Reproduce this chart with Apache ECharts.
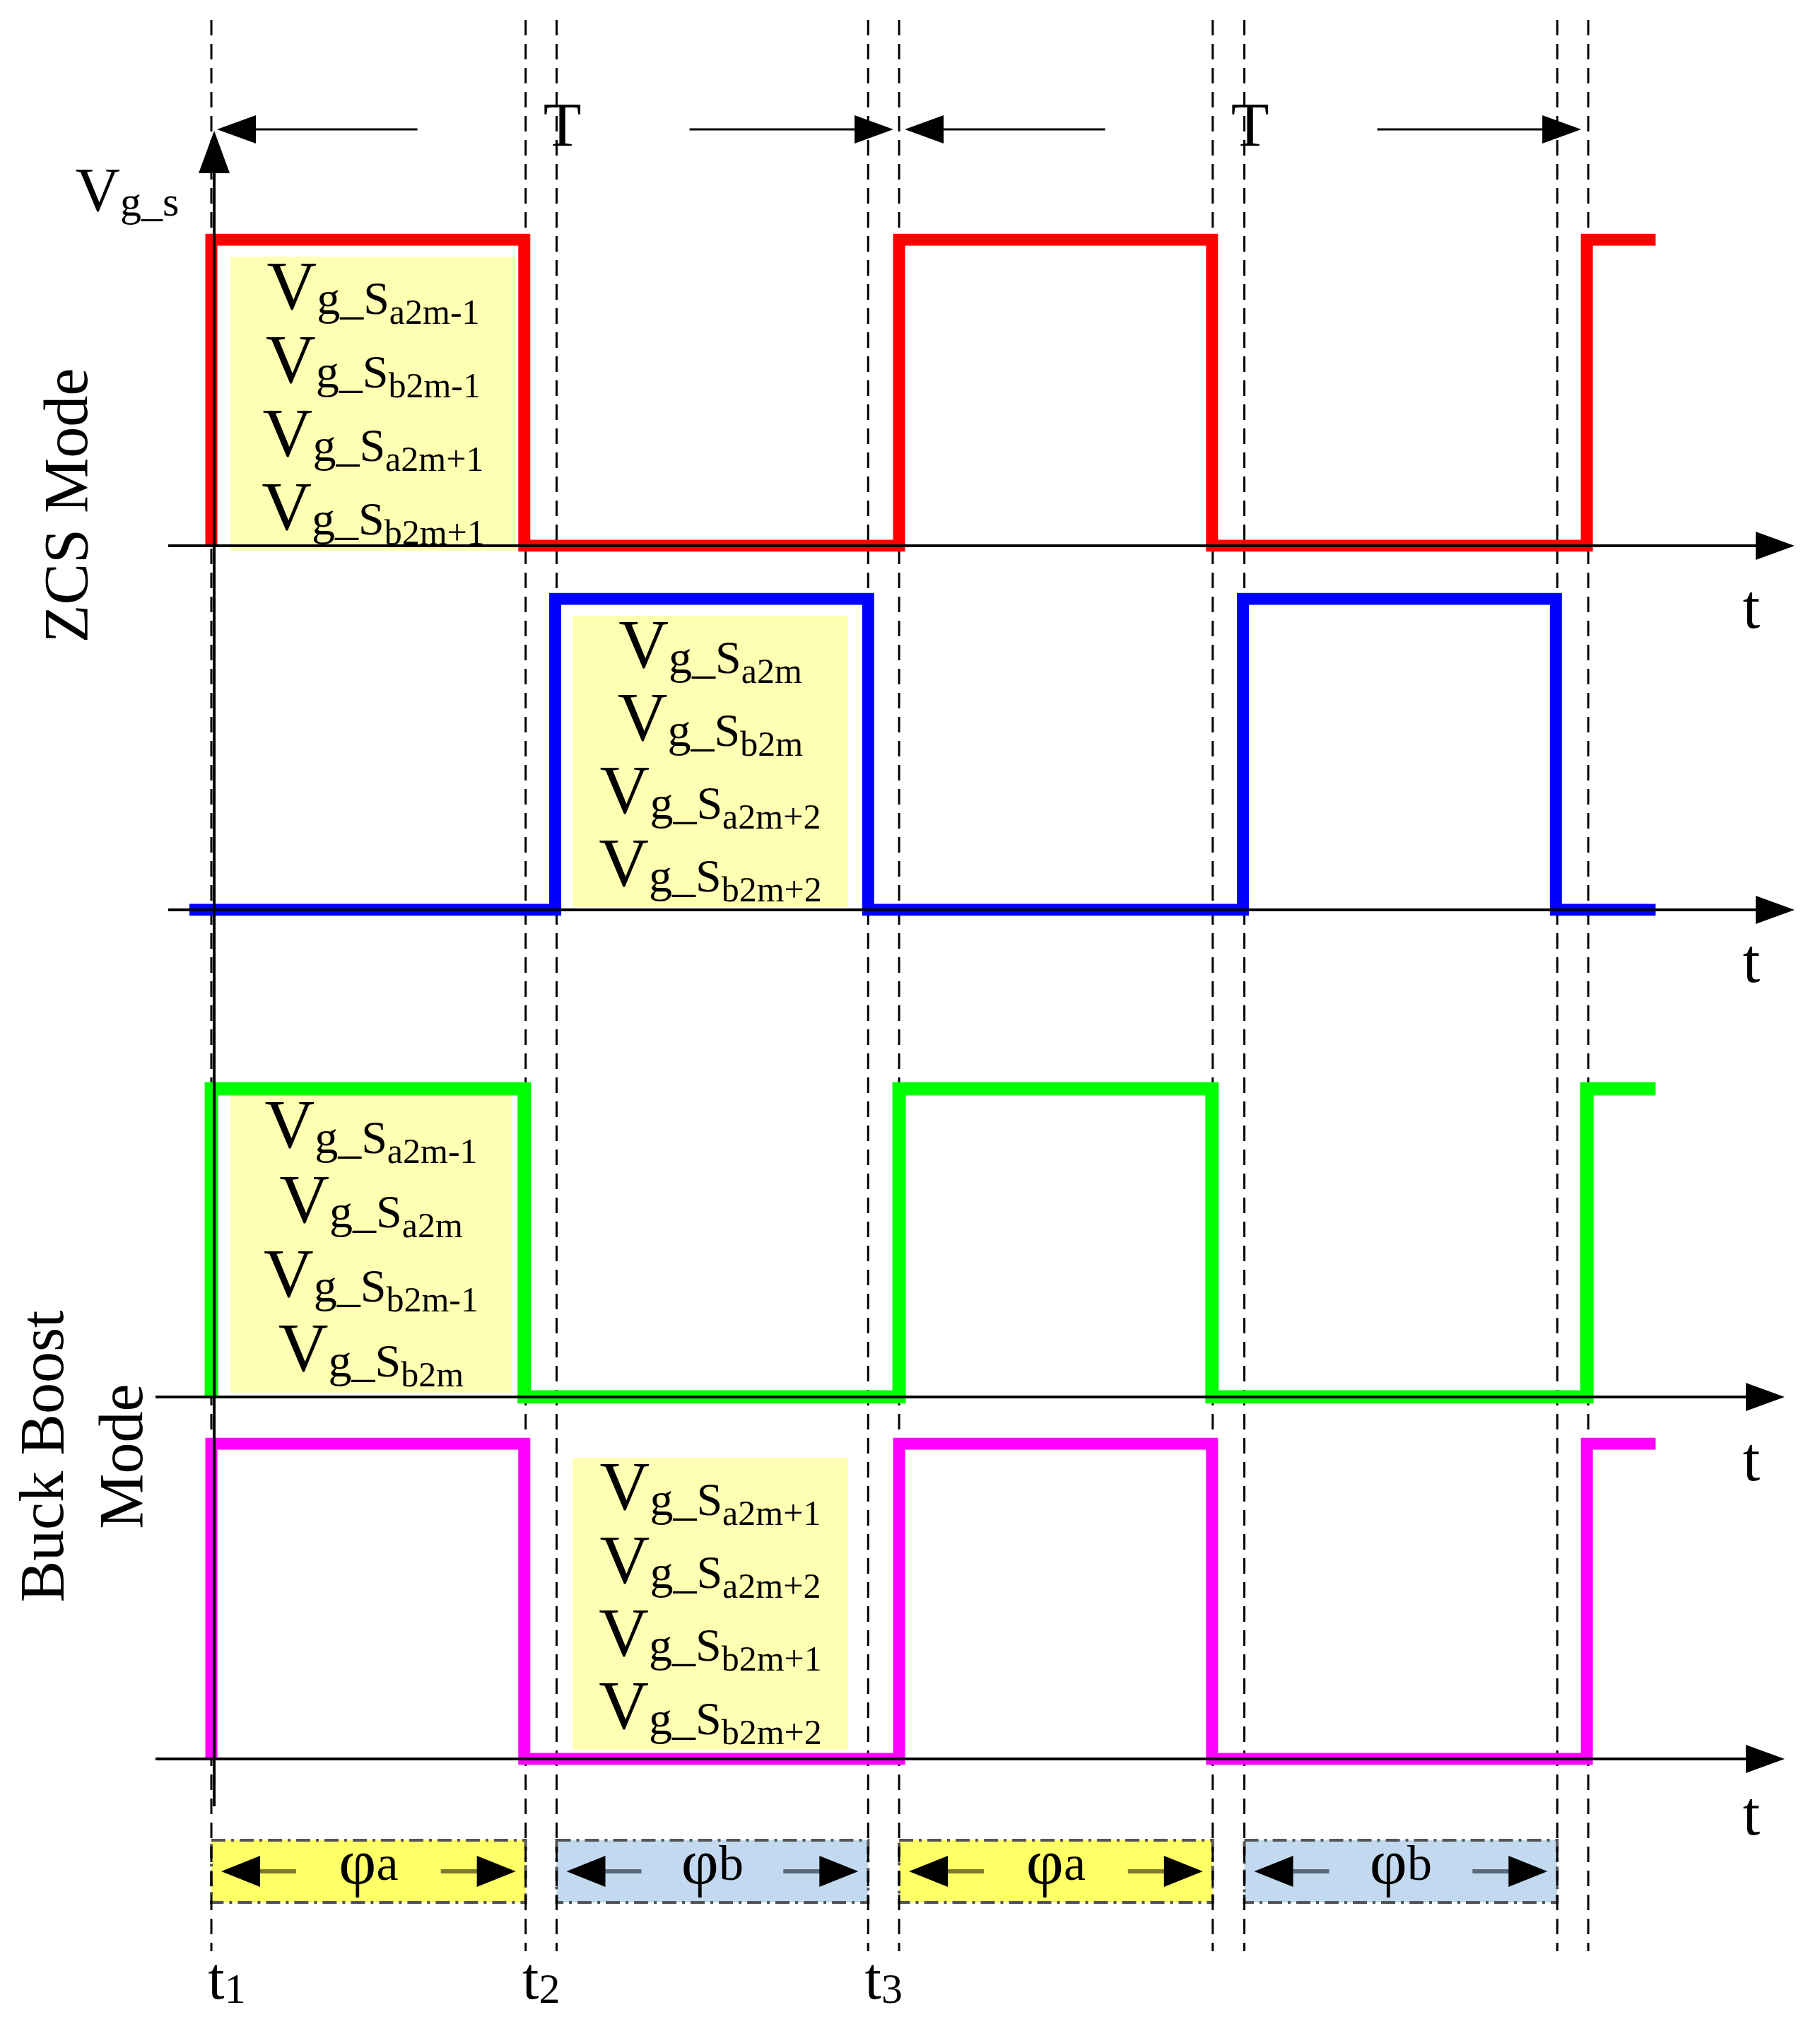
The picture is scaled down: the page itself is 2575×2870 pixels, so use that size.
<!DOCTYPE html>
<html><head><meta charset="utf-8">
<script src="https://cdn.jsdelivr.net/npm/echarts@6/dist/echarts.min.js"></script>
<style>html,body{margin:0;padding:0;background:#fff}#c{width:2575px;height:2870px}</style>
</head><body><div id="c"></div>
<script>
// time in % of period T (t1 = 0)
const redWave = [[0,0],[0,1],[45.5,1],[45.5,0],[100,0],[100,1],[145.5,1],[145.5,0],[200,0],[200,1],[210,1]];
const blueWave = [[-3.2,0],[50,0],[50,1],[95.5,1],[95.5,0],[150,0],[150,1],[195.5,1],[195.5,0],[210,0]];
const greenWave = [[0,0],[0,1],[45.5,1],[45.5,0],[100,0],[100,1],[145.5,1],[145.5,0],[200,0],[200,1],[210,1]];
const magentaWave = [[0,0],[0,1],[45.5,1],[45.5,0],[100,0],[100,1],[145.5,1],[145.5,0],[200,0],[200,1],[210,1]];
const dashTimes = [0,45.7,50.2,95.5,100,145.6,150.2,195.7,200.2];
const phiSpans = [[0,45.7,'a'],[50.2,95.5,'b'],[100,145.6,'a'],[150.2,195.7,'b']];
const tMarks = [[0,'1'],[45.7,'2'],[95.5,'3']];
const box1 = [['a2m-1'],['b2m-1'],['a2m+1'],['b2m+1']];
const box2 = [['a2m'],['b2m'],['a2m+2'],['b2m+2']];
const box3 = [['a2m-1'],['a2m'],['b2m-1'],['b2m']];
const box4 = [['a2m+1'],['a2m+2'],['b2m+1'],['b2m+2']];

const FONT = 'Liberation Serif';
const chart = echarts.init(document.getElementById('c'));
const grids = [[339,433],[847,440],[1540,436],[2042,446]];
const colors = ['#ff0000','#0000ff','#00ff00','#ff00ff'];
const waves = [redWave,blueWave,greenWave,magentaWave];
chart.setOption({
  backgroundColor:'#fff', animation:false,
  grid: grids.map(g=>({left:0,width:2575,top:g[0],height:g[1]})),
  xAxis: grids.map((g,i)=>({type:'value',gridIndex:i,min:-30.73,max:233.9,show:false})),
  yAxis: grids.map((g,i)=>({type:'value',gridIndex:i,min:0,max:1,show:false})),
  series: waves.map((w,i)=>({type:'line',xAxisIndex:i,yAxisIndex:i,data:w,showSymbol:false,
    lineStyle:{color:colors[i],width:(i===2?17:15)+2,join:'miter',cap:'butt'},z:5}))
});
const px = t => chart.convertToPixel({gridIndex:0},[t,0])[0];
const G = [];
function line(x1,y1,x2,y2,w,dash,color){G.push({type:'line',shape:{x1,y1,x2,y2},style:{stroke:color||'#000',lineWidth:w||3,lineDash:dash||null},z:dash?3:10});}
function head(x,y,dir,L,W){
  let pts;
  if(dir==='l') pts=[[x,y],[x+L,y-W],[x+L,y+W]];
  else if(dir==='r') pts=[[x,y],[x-L,y-W],[x-L,y+W]];
  else pts=[[x,y],[x-W,y+L],[x+W,y+L]];
  G.push({type:'polygon',shape:{points:pts},style:{fill:'#000'},z:11});
}
function text(x,y,t,size,rich,extra){G.push(Object.assign({type:'text',x,y,style:{text:t,font:size+'px "'+FONT+'"',fill:'#000',align:'center',verticalAlign:'middle',rich:rich||undefined},z:12},extra||{}));}
function vbox(x1,x2,y1,y2,items){
  G.push({type:'rect',shape:{x:x1,y:y1,width:x2-x1,height:y2-y1},style:{fill:'#ffffb3'},z:1});
  const step=(y2-y1)/items.length;
  items.forEach((it,i)=>{
    text((x1+x2)/2,y1+step*(i+0.5)-4,'{v|V}{g|g_S}{s|'+it[0]+'}',96,{
      v:{font:'98px "'+FONT+'"',fill:'#000',verticalAlign:'bottom'},
      g:{font:'66px "'+FONT+'"',fill:'#000',verticalAlign:'bottom'},
      s:{font:'50px "'+FONT+'"',fill:'#000',verticalAlign:'bottom',padding:[0,0,-10,0]}});
  });
}
function build(){
  G.length=0;
  vbox(326,730,363,779,box1);
  vbox(810,1200,871,1283,box2);
  vbox(326,724,1549,1970,box3);
  vbox(810,1200,2062,2475,box4);
  dashTimes.forEach(t=>line(px(t),28,px(t),2760,3,[22,12]));
  line(px(0)+4,2555,px(0)+4,230,4); head(px(0)+4,185,'u',60,22);
  [[772,238,2539],[1287,238,2539],[1976,220,2525],[2488,220,2525]].forEach(a=>{line(a[1],a[0],a[2]-50,a[0],4);head(a[2],a[0],'r',55,20);});
  [[865],[1366],[2071],[2572]].forEach(a=>text(2478,a[0],'t',88));
  [[0,100],[100,200]].forEach(p=>{
    const a=px(p[0]),b=px(p[1]),m=(a+b)/2;
    head(a+8,183,'l',55,20); line(a+60,183,m-195,183,3);
    line(m+190,183,b-60,183,3); head(b-8,183,'r',55,20);
    text(m+10,183,'T',88);
  });
  text(180,275,'{v|V}{g|g_s}',90,{v:{font:'88px "'+FONT+'"',fill:'#000',verticalAlign:'bottom'},g:{font:'60px "'+FONT+'"',fill:'#000',verticalAlign:'bottom'}});
  text(100,715,'ZCS Mode',88,null,{rotation:Math.PI/2});
  text(66,2060,'Buck Boost',88,null,{rotation:Math.PI/2});
  text(178,2060,'Mode',88,null,{rotation:Math.PI/2});
  phiSpans.forEach(s=>{
    const a=px(s[0]),b=px(s[1]),m=(a+b)/2,y=2647;
    G.push({type:'rect',shape:{x:a,y:2603,width:b-a,height:88},style:{fill:s[2]==='a'?'#ffff66':'#c3d9ef',stroke:'#555',lineWidth:4,lineDash:[20,8,4,8]},z:2});
    head(a+14,y,'l',55,22); line(a+60,y,a+120,y,6,null,s[2]==='a'?'#7a7a30':'#5a6a7a');
    line(b-120,y,b-60,y,6,null,s[2]==='a'?'#7a7a30':'#5a6a7a'); head(b-14,y,'r',55,22);
    text(m,y-6,'{p|φ}{s|'+s[2]+'}',80,{p:{font:'92px "'+FONT+'"',fill:'#000'},s:{font:'70px "'+FONT+'"',fill:'#000'}});
  });
  tMarks.forEach(t=>text(px(t[0])+22,2805,'{a|t}{b|'+t[1]+'}',80,{a:{font:'84px "'+FONT+'"',fill:'#000',verticalAlign:'bottom'},b:{font:'60px "'+FONT+'"',fill:'#000',verticalAlign:'bottom'}}));
  chart.setOption({graphic:{elements:G.slice()}},{replaceMerge:['graphic']});
}
build();
</script></body></html>
